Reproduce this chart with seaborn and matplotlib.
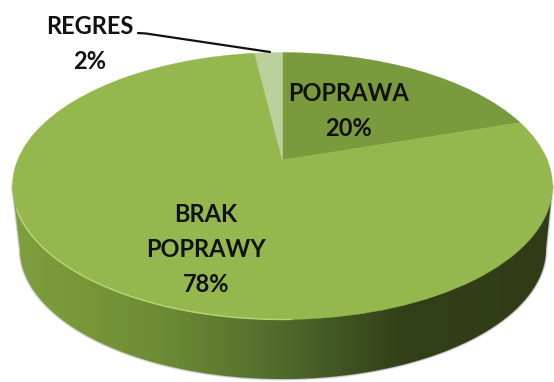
import numpy as np
import matplotlib
matplotlib.use("Agg")
import matplotlib.pyplot as plt
import seaborn as sns
from matplotlib.transforms import Transform, Affine2D
from matplotlib.colors import LinearSegmentedColormap
from matplotlib.patches import Polygon

categories = ["POPRAWA", "BRAK\nPOPRAWY", "REGRES"]
values = [20, 78, 2]
colors = ["#7A9A3E", "#95B84E", "#BBD09A"]

sns.set_theme(style="white")
plt.rcParams["font.family"] = ["Lato", "DejaVu Sans"]


class Tilt(Transform):
    """Perspective view of the unit disc: the rim stays an ellipse, the hub moves back."""
    input_dims = output_dims = 2
    has_inverse = False

    def __init__(self, b):
        super().__init__()
        self.b = b

    def transform_non_affine(self, xy):
        xy = np.asarray(xy, float)
        d = 1 + self.b * xy[:, 1]
        return np.column_stack([np.sqrt(1 - self.b ** 2) * xy[:, 0] / d,
                                (xy[:, 1] + self.b) / d])


fig = plt.figure(figsize=(5.54, 3.82), dpi=100, facecolor="white")
ax = fig.add_axes([0, 0, 1, 1])

CX, CY, RX, RY = 282.5, 186, 270, 133.5
BX, BY, BRX, BRY = 283, 249, 263, 130

# side wall
t = np.linspace(np.pi, 2 * np.pi, 200)
wall = np.column_stack([BX + BRX * np.cos(t), BY - BRY * np.sin(t)])
wall = np.vstack([[CX - RX, CY], wall, [CX + RX, CY]])
for grow, a in [(2.6, .10), (1.6, .16), (.8, .25)]:
    ax.add_patch(Polygon(wall, closed=True, fc="none", ec="#555555", lw=grow, alpha=a, zorder=1))
cmap = LinearSegmentedColormap.from_list(
    "wall", [(0, "#7F9F3F"), (.12, "#789838"), (.3, "#6A8934"), (.5, "#4F6A2A"),
             (.62, "#3F5322"), (.72, "#333F18"), (1, "#313C16")])
im = ax.imshow(np.linspace(0, 1, 256)[None, :], cmap=cmap, aspect="auto",
               extent=(CX - RX, CX + RX, 382, CY), zorder=2)
clip = Polygon(wall, closed=True, transform=ax.transData, fc="none", ec="none")
ax.add_patch(clip)
im.set_clip_path(clip)

# top face
wedges, _ = ax.pie(values, colors=colors, startangle=90, counterclock=False,
                   wedgeprops=dict(linewidth=0.3, zorder=3))
rim = Tilt(0.194) + Affine2D().scale(RX, -RY).translate(CX, CY) + ax.transData
for w, c in zip(wedges, colors):
    w.set_transform(rim)
    w.set_edgecolor(c)
    w.set_zorder(3)
    w.set_clip_on(False)

# pale bevel on the lit part of the rim
a = np.radians(np.linspace(190, 272, 100))
ax.plot(CX + RX * np.cos(a), CY - RY * np.sin(a), color="#C9DF84", lw=1.0, alpha=.8, zorder=4)

ax.set_aspect("auto")
ax.set_xlim(0, 554)
ax.set_ylim(382, 0)
ax.axis("off")

# labels
positions = [(349, 111), (206, 249.5), (90, 44)]
for cat, val, (x, y) in zip(categories, values, positions):
    ax.text(x, y, f"{cat}\n{val}%", ha="center", va="center", ma="center",
            fontsize=17, fontweight="bold", color="#111111", linespacing=1.63, zorder=6)

ax.plot([138, 146, 270], [33, 33.5, 52], color="#111111", lw=1.6, zorder=5)

fig.savefig("out.png", dpi=100, facecolor="white")
